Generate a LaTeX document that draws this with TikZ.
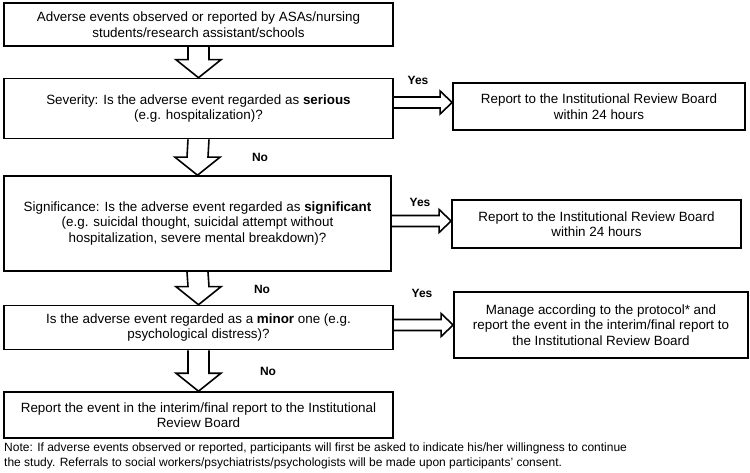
\documentclass[tikz,border=0pt]{standalone}
\usepackage{fontspec}
\setmainfont{Liberation Sans}
\usepackage{tikz}
\usetikzlibrary{calc}
\tikzstyle{qbox}=[draw, line width=1.6pt, align=center, inner sep=0pt,
                  font=\fontsize{13.4}{15.5}\selectfont]
\tikzstyle{rbox}=[qbox, line width=1.8pt]
\tikzstyle{answer}=[font=\bfseries\fontsize{12}{14}\selectfont]
\tikzstyle{fat-arrow}=[line width=1.6pt, line join=miter]
\newcommand{\fatdown}[2]{%
  \draw[fat-arrow] ($(#1.south)+(-10.5,0)$) -- ($(#2.north)+(-10.5,-18)$)
    -- ($(#2.north)+(-22.5,-18)$) -- (#2.north) -- ($(#2.north)+(22.5,-18)$)
    -- ($(#2.north)+(10.5,-18)$) -- ($(#1.south)+(10.5,0)$);}
\newcommand{\fatright}[3]{%
  \draw[fat-arrow] ($(#1.east |- #2.west)+(0,#3-5.5)$) -- ($(#2.west)+(-12,#3-5.5)$)
    -- ($(#2.west)+(-12,#3-11.5)$) -- ($(#2.west)+(0,#3)$) -- ($(#2.west)+(-12,#3+11.5)$)
    -- ($(#2.west)+(-12,#3+5.5)$) -- ($(#1.east |- #2.west)+(0,#3+5.5)$);}

\begin{document}
\begin{tikzpicture}[x=1pt,y=-1pt]
\useasboundingbox (0,0) rectangle (750,473);
\node[qbox, minimum width=389, minimum height=43] (observed) at (198.5,24.5)
  {Adverse events observed or reported by ASAs/nursing\\students/research assistant/schools};
\node[qbox, minimum width=389, minimum height=60] (severity) at (198.5,108.5)
  {Severity: Is the adverse event regarded as \textbf{serious}\\(e.g. hospitalization)?};
\node[qbox, minimum width=387, minimum height=95] (significance) at (197.5,223.5)
  {Significance: Is the adverse event regarded as \textbf{significant}\\(e.g. suicidal thought, suicidal attempt without\\hospitalization, severe mental breakdown)?};
\node[qbox, minimum width=389, minimum height=44] (minor) at (198.5,327.5)
  {Is the adverse event regarded as a \textbf{minor} one (e.g.\\psychological distress)?};
\node[qbox, minimum width=389, minimum height=46] (interim) at (198.5,415)
  {Report the event in the interim/final report to the Institutional\\Review Board};
\node[rbox, minimum width=292, minimum height=47] (irb1) at (599,106.5)
  {Report to the Institutional Review Board\\within 24 hours};
\node[rbox, minimum width=289, minimum height=48] (irb2) at (596.5,224)
  {Report to the Institutional Review Board\\within 24 hours};
\node[rbox, minimum width=294, minimum height=66] (protocol) at (601,325)
  {Manage according to the protocol* and\\report the event in the interim/final report to\\the Institutional Review Board};
\node[answer] (yes1) at (418,80) {Yes};
\node[answer] (yes2) at (420,202) {Yes};
\node[answer] (yes3) at (422,293) {Yes};
\node[answer] (no1) at (260,157) {No};
\node[answer] (no2) at (262,289) {No};
\node[answer] (no3) at (268,371) {No};
\node[anchor=north west, align=left, inner sep=0pt,
      font=\fontsize{12}{14.5}\selectfont] (note) at (4,443)
  {Note: If adverse events observed or reported, participants will first be asked to indicate his/her willingness to continue\\the study. Referrals to social workers/psychiatrists/psychologists will be made upon participants' consent.};
\fatdown{observed}{severity}
\fatdown{severity}{significance}
\fatdown{significance}{minor}
\fatdown{minor}{interim}
\fatright{severity}{irb1}{-4}
\fatright{significance}{irb2}{-3}
\fatright{minor}{protocol}{0}
\end{tikzpicture}
\end{document}
